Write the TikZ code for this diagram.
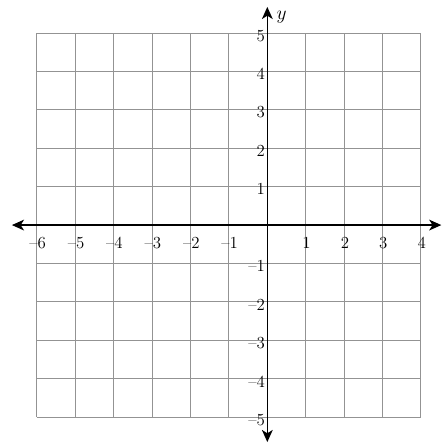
\documentclass[tikz,border=0pt]{standalone}
\usetikzlibrary{arrows.meta}
\tikzset{
  gridln/.style={gray!85,line width=0.75pt},
  axis/.style={{Stealth[length=9pt,width=8pt,inset=2.5pt]}-{Stealth[length=9pt,width=8pt,inset=2.5pt]},line width=1.1pt},
  tck/.style={font=\fontsize{12.5}{14}\selectfont,inner sep=1pt},
  albl/.style={font=\fontsize{14}{15}\selectfont},
}
\newcommand{\ticknum}[1]{\ifnum#1<0 \textendash\number-#1\else#1\fi}
\begin{document}
\begin{tikzpicture}
 \useasboundingbox (-6.96,-5.70) rectangle (4.53,5.86);
 % grid
 \draw[gridln] (-6,-5) grid (4,5);
 % axes
 \coordinate (xw) at (-6.65,0);
 \coordinate (xe) at (4.53,0);
 \coordinate (ys) at (0,-5.65);
 \coordinate (yn) at (0,5.68);
 \draw[axis] (xw)--(xe);
 \draw[axis] (ys)--(yn);
 \node[albl,anchor=west] (xlab) at (4.45,-0.35) {$x$};
 \node[albl] (ylab) at (0.37,5.42) {$y$};
 % tick labels
 \foreach \i in {-6,...,-1,1,2,3,4}
  \node[tck,anchor=north] (xt\i) at (\i+0.02,-0.27) {\ticknum{\i}};
 \foreach \i in {-5,...,-1,1,2,3,4,5}
  \node[tck,anchor=east] (yt\i) at (-0.02,\i-0.07) {\ticknum{\i}};
\end{tikzpicture}
\end{document}
